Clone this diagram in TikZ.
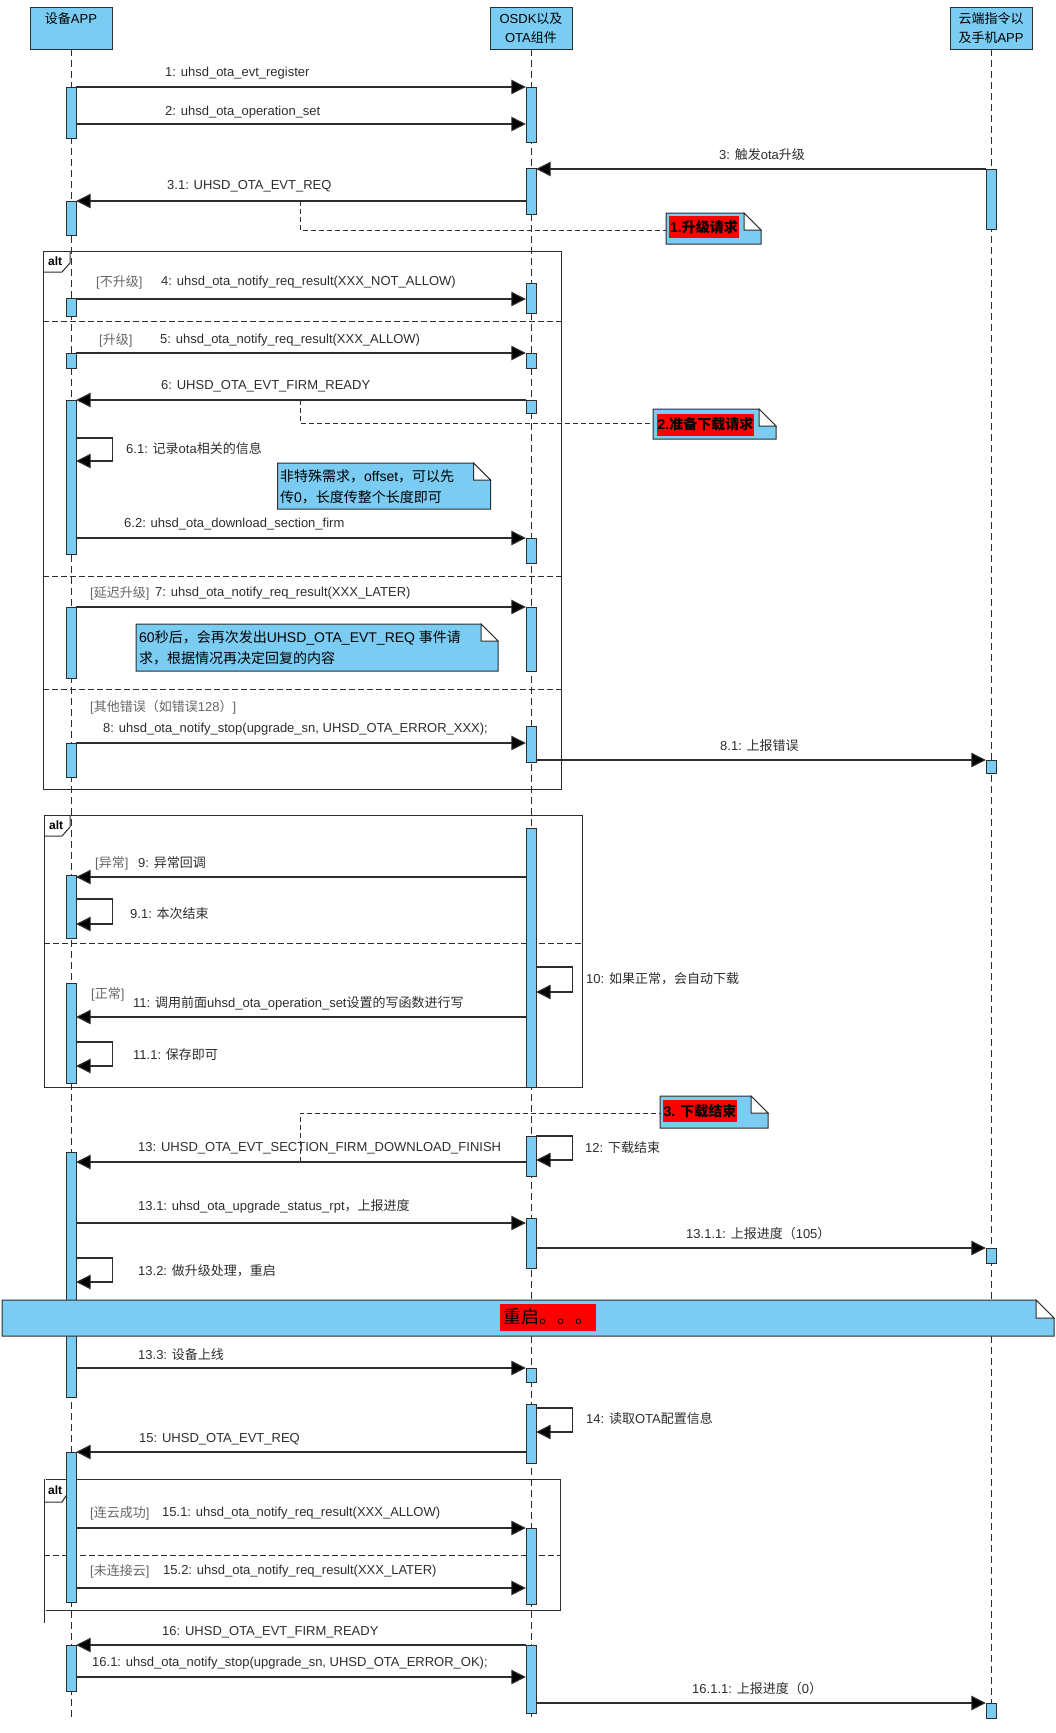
\documentclass[tikz,border=0pt]{standalone}
\usepackage{fontspec}
\setmainfont{Liberation Sans}
\newfontfamily\zh{Noto Sans CJK SC}
\usetikzlibrary{arrows.meta,positioning}

\definecolor{sdblue}{RGB}{122,204,242}
\definecolor{sdline}{RGB}{45,45,45}

% switch to the CJK font for ideographs and fullwidth punctuation
\XeTeXinterchartokenstate=1
\chardef\zhclass=11
\newcount\zhc
\def\zhrange#1#2{\zhc=#1 \loop\XeTeXcharclass\zhc=\zhclass \advance\zhc by 1 \ifnum\zhc<#2 \repeat}
\zhrange{"4E00}{"A000}
\zhrange{"3000}{"3040}
\zhrange{"FF00}{"FFF0}
\XeTeXinterchartoks 0 \zhclass = {\zh}
\XeTeXinterchartoks 4095 \zhclass = {\zh}
\XeTeXinterchartoks \zhclass 0 = {\rmfamily}
\XeTeXinterchartoks \zhclass 4095 = {\rmfamily}

\newcommand\actbox[4]{\node[act,minimum height=#4] (#1) at (#2,#3) {};}
\newcommand\dognote[5]{%
  \filldraw[notebody] (#1,#2) -- (#3-#5,#2) -- (#3,#2+#5) -- (#3,#4) -- (#1,#4) -- cycle;
  \filldraw[notefold] (#3-#5,#2) -- (#3-#5,#2+#5) -- (#3,#2+#5) -- cycle;}

\begin{document}
\begin{tikzpicture}[x=1pt,y=-1pt,
  head/.style={draw=sdline,fill=sdblue,minimum width=82pt,minimum height=42pt,inner sep=0pt,align=center,font=\fontsize{13}{19}\selectfont},
  act/.style={draw=sdline,fill=sdblue,minimum width=10pt,inner sep=0pt,anchor=north},
  life/.style={sdline,dash pattern=on 7pt off 4pt},
  msg/.style={sdline,line width=1.1pt,-{Triangle[length=14.5pt,width=14.5pt,fill=black]}},
  txt/.style={anchor=west,inner sep=0pt,font=\fontsize{13}{15}\selectfont,text=sdline},
  guard/.style={txt,text=black!60},
  frame/.style={sdline,line width=1pt},
  sep/.style={sdline,line width=1pt,dash pattern=on 6pt off 3pt},
  notebody/.style={draw=sdline,fill=sdblue,line width=1pt},
  notefold/.style={draw=sdline,fill=white,line width=1pt},
  notetxt/.style={anchor=west,inner sep=0pt,align=left,font=\fontsize{14}{21}\selectfont},
  redtag/.style={fill=red,inner sep=1pt,minimum height=22pt,font=\bfseries\fontsize{14}{16}\selectfont},
  link/.style={sdline,line width=1pt,dash pattern=on 5pt off 3pt},
  altname/.style={anchor=west,inner sep=0pt,font=\bfseries\fontsize{12}{14}\selectfont}
]
\useasboundingbox (0,0) rectangle (1056,1733);

% lifelines
\node[head] (app) at (71,28) {设备APP\\\mbox{}};
\node[head] (osdk) at (531,28) {OSDK以及\\OTA组件};
\node[head] (cloud) at (991,28) {云端指令以\\及手机APP};
\draw[life] (app.south) -- (app.south |- 0,1720);
\draw[life] (osdk.south) -- (osdk.south |- 0,1720);
\draw[life] (cloud.south) -- (cloud.south |- 0,1720);

% alt frames
\draw[frame] (43,251) rectangle (561,789);
\draw[frame] (43,272) -- (62,272) -- (70,263) -- (70,251);
\node[altname] (alt1) at (48,261) {alt};
\draw[sep] (43,321) -- (561,321);
\draw[sep] (43,576) -- (561,576);
\draw[sep] (43,689) -- (561,689);

\draw[frame] (44,815) rectangle (582,1087);
\draw[frame] (44,836) -- (62,836) -- (70,827) -- (70,815);
\node[altname] (alt2) at (49,825) {alt};
\draw[sep] (44,943) -- (582,943);

\draw[frame] (46,1479) -- (560,1479) -- (560,1610) -- (46,1610);
\draw[frame] (44,1479) -- (44,1623);
\draw[frame] (44,1502) -- (62,1502) -- (68,1493) -- (68,1479);
\node[altname] (alt3) at (48,1490) {alt};
\draw[sep] (44,1555) -- (560,1555);

% activations
\actbox{a1}{71}{87}{51}
\actbox{a2}{71}{201}{34}
\actbox{a3}{71}{298}{18}
\actbox{a4}{71}{353}{15}
\actbox{a5}{71}{400}{154}
\actbox{a6}{71}{607}{71}
\actbox{a7}{71}{743}{34}
\actbox{a8}{71}{875}{63}
\actbox{a9}{71}{983}{100}
\actbox{a10}{71}{1152}{245}
\actbox{a11}{71}{1452}{150}
\actbox{a12}{71}{1645}{46}
\actbox{o1}{531}{87}{55}
\actbox{o2}{531}{168}{46}
\actbox{o3}{531}{283}{30}
\actbox{o4}{531}{353}{15}
\actbox{o5}{531}{400}{13}
\actbox{o6}{531}{538}{25}
\actbox{o7}{531}{607}{64}
\actbox{o8}{531}{726}{36}
\actbox{o9}{531}{828}{259}
\actbox{o10}{531}{1136}{40}
\actbox{o11}{531}{1218}{50}
\actbox{o12}{531}{1368}{14}
\actbox{o13}{531}{1404}{59}
\actbox{o14}{531}{1528}{76}
\actbox{o15}{531}{1645}{68}
\actbox{c1}{991}{169}{60}
\actbox{c2}{991}{760}{13}
\actbox{c3}{991}{1248}{15}
\actbox{c4}{991}{1703}{15}

% messages
\draw[msg] (a1.east |- 0,87) -- (o1.west |- 0,87);
\node[txt] (l1) at (165,73) {1: uhsd\_ota\_evt\_register};
\draw[msg] (a1.east |- 0,124) -- (o1.west |- 0,124);
\node[txt] (l2) at (165,112) {2: uhsd\_ota\_operation\_set};
\draw[msg] (c1.west |- 0,169) -- (o2.east |- 0,169);
\node[txt] (l3) at (719,155) {3: 触发ota升级};
\draw[msg] (o2.west |- 0,201) -- (a2.east |- 0,201);
\node[txt] (l31) at (167,186) {3.1: UHSD\_OTA\_EVT\_REQ};

\draw[msg] (a3.east |- 0,299) -- (o3.west |- 0,299);
\node[guard] (g4) at (96,282) {[不升级]};
\node[txt] (l4) at (161,282) {4: uhsd\_ota\_notify\_req\_result(XXX\_NOT\_ALLOW)};
\draw[msg] (a4.east |- 0,353) -- (o4.west |- 0,353);
\node[guard] (g5) at (99,340) {[升级]};
\node[txt] (l5) at (160,340) {5: uhsd\_ota\_notify\_req\_result(XXX\_ALLOW)};
\draw[msg] (o5.west |- 0,400) -- (a5.east |- 0,400);
\node[txt] (l6) at (161,386) {6: UHSD\_OTA\_EVT\_FIRM\_READY};
\draw[msg] (a5.east |- 0,438) -- ++(36,0) |- (a5.east |- 0,461);
\node[txt] (l61) at (126,449) {6.1: 记录ota相关的信息};
\draw[msg] (a5.east |- 0,538) -- (o6.west |- 0,538);
\node[txt] (l62) at (124,524) {6.2: uhsd\_ota\_download\_section\_firm};

\draw[msg] (a6.east |- 0,607) -- (o7.west |- 0,607);
\node[guard] (g7) at (90,593) {[延迟升级]};
\node[txt] (l7) at (155,593) {7: uhsd\_ota\_notify\_req\_result(XXX\_LATER)};
\draw[msg] (a7.east |- 0,743) -- (o8.west |- 0,743);
\node[guard] (g8) at (90,707) {[其他错误（如错误128）]};
\node[txt] (l8) at (103,729) {8: uhsd\_ota\_notify\_stop(upgrade\_sn, UHSD\_OTA\_ERROR\_XXX);};
\draw[msg] (o8.east |- 0,760) -- (c2.west |- 0,760);
\node[txt] (l81) at (720,746) {8.1: 上报错误};

\draw[msg] (o9.west |- 0,877) -- (a8.east |- 0,877);
\node[guard] (g9) at (95,863) {[异常]};
\node[txt] (l9) at (138,863) {9: 异常回调};
\draw[msg] (a8.east |- 0,899) -- ++(36,0) |- (a8.east |- 0,924);
\node[txt] (l91) at (130,914) {9.1: 本次结束};
\draw[msg] (o9.east |- 0,967) -- ++(36,0) |- (o9.east |- 0,992);
\node[txt] (l10) at (586,979) {10: 如果正常，会自动下载};
\draw[msg] (o9.west |- 0,1017) -- (a9.east |- 0,1017);
\node[guard] (g11) at (91,994) {[正常]};
\node[txt] (l11) at (133,1003) {11: 调用前面uhsd\_ota\_operation\_set设置的写函数进行写};
\draw[msg] (a9.east |- 0,1042) -- ++(36,0) |- (a9.east |- 0,1066);
\node[txt] (l111) at (133,1055) {11.1: 保存即可};

\draw[msg] (o10.east |- 0,1136) -- ++(36,0) |- (o10.east |- 0,1160);
\node[txt] (l12) at (585,1148) {12: 下载结束};
\draw[msg] (o10.west |- 0,1162) -- (a10.east |- 0,1162);
\node[txt] (l13) at (138,1148) {13: UHSD\_OTA\_EVT\_SECTION\_FIRM\_DOWNLOAD\_FINISH};
\draw[msg] (a10.east |- 0,1223) -- (o11.west |- 0,1223);
\node[txt] (l131) at (138,1206) {13.1: uhsd\_ota\_upgrade\_status\_rpt，上报进度};
\draw[msg] (o11.east |- 0,1248) -- (c3.west |- 0,1248);
\node[txt] (l1311) at (686,1234) {13.1.1: 上报进度（105）};
\draw[msg] (a10.east |- 0,1258) -- ++(36,0) |- (a10.east |- 0,1282);
\node[txt] (l132) at (138,1271) {13.2: 做升级处理，重启};

\draw[msg] (a10.east |- 0,1368) -- (o12.west |- 0,1368);
\node[txt] (l133) at (138,1355) {13.3: 设备上线};
\draw[msg] (o13.east |- 0,1408) -- ++(36,0) |- (o13.east |- 0,1432);
\node[txt] (l14) at (586,1419) {14: 读取OTA配置信息};
\draw[msg] (o13.west |- 0,1452) -- (a11.east |- 0,1452);
\node[txt] (l15) at (139,1439) {15: UHSD\_OTA\_EVT\_REQ};
\draw[msg] (a11.east |- 0,1528) -- (o14.west |- 0,1528);
\node[guard] (g151) at (90,1513) {[连云成功]};
\node[txt] (l151) at (162,1513) {15.1: uhsd\_ota\_notify\_req\_result(XXX\_ALLOW)};
\draw[msg] (a11.east |- 0,1588) -- (o14.west |- 0,1588);
\node[guard] (g152) at (90,1571) {[未连接云]};
\node[txt] (l152) at (163,1571) {15.2: uhsd\_ota\_notify\_req\_result(XXX\_LATER)};

\draw[msg] (o15.west |- 0,1645) -- (a12.east |- 0,1645);
\node[txt] (l16) at (162,1632) {16: UHSD\_OTA\_EVT\_FIRM\_READY};
\draw[msg] (a12.east |- 0,1677) -- (o15.west |- 0,1677);
\node[txt] (l161) at (92,1663) {16.1: uhsd\_ota\_notify\_stop(upgrade\_sn, UHSD\_OTA\_ERROR\_OK);};
\draw[msg] (o15.east |- 0,1703) -- (c4.west |- 0,1703);
\node[txt] (l1611) at (692,1689) {16.1.1: 上报进度（0）};

% notes
\coordinate (k1) at (300,201);
\coordinate (k2) at (300,400);
\coordinate (k3) at (300,1162);
\draw[link] (k1) |- (666,230);
\draw[link] (k2) |- (653,423);
\draw[link] (k3) |- (660,1113);

\dognote{666}{213}{761}{244}{17}
\node[redtag] (tag1) at (704,227) {1.升级请求};
\dognote{653}{409}{776}{439}{17}
\node[redtag] (tag2) at (705.5,424.5) {2.准备下载请求};
\dognote{660}{1096}{768}{1128}{17}
\node[redtag] (tag3) at (700,1111) {3. 下载结束};

\dognote{277.5}{463}{490.5}{509}{17}
\node[notetxt] (n1) at (280,487) {非特殊需求，offset，可以先\\传0，长度传整个长度即可};
\dognote{136}{624}{498}{671}{17}
\node[notetxt] (n2) at (139,648) {60秒后，会再次发出UHSD\_OTA\_EVT\_REQ 事件请\\求，根据情况再决定回复的内容};

% restart banner
\dognote{2}{1300}{1054}{1336}{18}
\node[fill=red,minimum width=96pt,minimum height=27pt,inner sep=0pt,font=\fontsize{18}{20}\selectfont] (reboot) at (548,1317) {重启。。。};
\end{tikzpicture}
\end{document}
